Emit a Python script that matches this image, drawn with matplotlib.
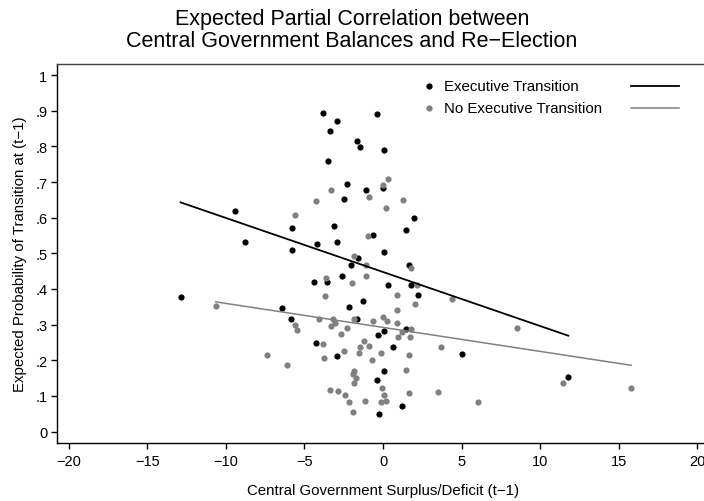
import numpy as np
import matplotlib
matplotlib.use("Agg")
import matplotlib.pyplot as plt
from matplotlib.ticker import FuncFormatter

###############################################################################
#                                   Data                                      #
###############################################################################
# Executive transition cases: balance (t-1) vs expected probability
exec_x = [-12.89, -9.43, -8.79, -6.41, -5.84, -5.80, -5.78, -4.39, -4.27, -4.18,
          -3.80, -3.57, -3.50, -3.38, -3.10, -2.93, -2.93, -2.91, -2.61, -2.48,
          -2.31, -2.19, -2.06, -1.68, -1.64, -1.57, -1.46, -1.27, -1.10, -0.62,
          -0.40, -0.36, -0.34, -0.25, 0.04, 0.02, 0.04, 0.30, 0.04, 0.04,
          0.64, 1.19, 1.45, 1.45, 1.66, 1.78, 1.99, 2.25, 5.05, 11.80]
exec_y = [0.377, 0.619, 0.532, 0.348, 0.316, 0.572, 0.510, 0.420, 0.248, 0.526,
          0.893, 0.419, 0.758, 0.843, 0.577, 0.533, 0.211, 0.872, 0.436, 0.652,
          0.695, 0.349, 0.468, 0.814, 0.315, 0.488, 0.799, 0.365, 0.677, 0.551,
          0.892, 0.145, 0.270, 0.048, 0.791, 0.682, 0.505, 0.411, 0.283, 0.170,
          0.237, 0.071, 0.565, 0.287, 0.466, 0.410, 0.598, 0.382, 0.218, 0.152]

# No executive transition cases
noexec_x = [-10.66, -7.37, -6.13, -5.61, -5.58, -5.46, -4.29, -4.06, -3.80, -3.78,
            -3.69, -3.61, -3.36, -3.33, -3.31, -3.17, -3.06, -2.87, -2.69, -2.48,
            -2.40, -2.31, -2.17, -1.99, -1.91, -1.87, -1.89, -1.85, -1.85, -1.85,
            -1.72, -1.55, -1.46, -1.21, -1.15, -1.08, -1.06, -0.93, -0.91, -0.89,
            -0.72, -0.62, -0.15, -0.08, -0.13, 0.02, 0.02, 0.06, 0.19, 0.21,
            0.25, 0.30, 0.89, 0.89, 0.89, 0.98, 1.19, 1.27, 1.45, 1.68,
            1.68, 1.72, 1.78, 1.78, 2.04, 2.17, 3.52, 3.69, 4.42, 6.03,
            8.54, 11.49, 15.80]
noexec_y = [0.352, 0.216, 0.186, 0.607, 0.298, 0.285, 0.646, 0.316, 0.245, 0.206,
            0.379, 0.431, 0.116, 0.296, 0.678, 0.316, 0.304, 0.113, 0.274, 0.227,
            0.102, 0.291, 0.083, 0.417, 0.055, 0.171, 0.162, 0.316, 0.493, 0.137,
            0.150, 0.220, 0.237, 0.253, 0.085, 0.468, 0.437, 0.548, 0.239, 0.659,
            0.201, 0.311, 0.220, 0.122, 0.083, 0.692, 0.321, 0.104, 0.626, 0.085,
            0.311, 0.709, 0.384, 0.341, 0.304, 0.266, 0.279, 0.651, 0.173, 0.216,
            0.108, 0.266, 0.460, 0.289, 0.358, 0.410, 0.112, 0.238, 0.373, 0.084,
            0.290, 0.137, 0.122]

# Fitted lines (end points over each group's range)
exec_fit_x = [-12.89, 11.80]
exec_fit_y = [0.643, 0.269]
noexec_fit_x = [-10.66, 15.80]
noexec_fit_y = [0.364, 0.186]

x_ticks = [-20, -15, -10, -5, 0, 5, 10, 15, 20]
y_ticks = [0, .1, .2, .3, .4, .5, .6, .7, .8, .9, 1]

###############################################################################
#                                   Plot                                      #
###############################################################################
plt.rcParams['font.family'] = ['Liberation Sans', 'DejaVu Sans']
GRAY = '#808080'

fig = plt.figure(figsize=(7.04, 5.02), dpi=100)
ax = fig.add_axes([57 / 704, 1 - 444 / 502, (709 - 57) / 704, (444 - 64.7) / 502])

ax.scatter(exec_x, exec_y, s=20, color='black', linewidths=0, zorder=2)
ax.scatter(noexec_x, noexec_y, s=20, color=GRAY, linewidths=0, zorder=2)
ax.plot(exec_fit_x, exec_fit_y, color='black', lw=1.3, zorder=3)
ax.plot(noexec_fit_x, noexec_fit_y, color=GRAY, lw=1.1, zorder=3)

ax.set_xlim(-20.76, 20.76)
ax.set_ylim(-0.032, 1.032)
ax.set_xticks(x_ticks)
ax.set_yticks(y_ticks)

def prob_fmt(v, pos):
    if abs(v) < 1e-9:
        return '0'
    if abs(v - 1) < 1e-9:
        return '1'
    return ('%.1f' % v)[1:]

ax.yaxis.set_major_formatter(FuncFormatter(prob_fmt))
ax.xaxis.set_major_formatter(FuncFormatter(lambda v, p: ('%d' % v).replace('-', '\u2212')))
ax.tick_params(axis='both', direction='out', length=4, width=1, labelsize=10.5, colors='black')
ax.tick_params(axis='y', pad=3)
ax.tick_params(axis='x', pad=4)

ax.spines['right'].set_visible(False)
ax.spines['left'].set_linewidth(1.0)
ax.spines['bottom'].set_linewidth(1.0)
ax.spines['top'].set_color('#404040')
ax.spines['top'].set_linewidth(1.0)

ax.set_xlabel('Central Government Surplus/Deficit (t\u22121)', fontsize=10.8, labelpad=11)
ax.set_ylabel('Expected Probability of Transition at (t\u22121)', fontsize=10.8, labelpad=6)

fig.text(0.5, 1 - 9 / 502, 'Expected Partial Correlation between\n'
         'Central Government Balances and Re\u2212Election',
         ha='center', va='top', fontsize=15.5, linespacing=1.08)

# Legend drawn by hand: marker + label on the left, line sample on the right
leg_rows = [('Executive Transition', 'black', 1.3), ('No Executive Transition', GRAY, 1.1)]
for i, (label, col, lw) in enumerate(leg_rows):
    py = 1 - (86.7 + i * 22.6) / 502
    fig.add_artist(plt.Line2D([429.3 / 704], [py], marker='o', markersize=4.5,
                              color=col, markeredgewidth=0, linestyle='none'))
    fig.text(444 / 704, py, label, ha='left', va='center', fontsize=10.8)
    fig.add_artist(plt.Line2D([631 / 704, 679.3 / 704], [py, py], color=col, lw=lw))

fig.savefig('out.png', dpi=100)
